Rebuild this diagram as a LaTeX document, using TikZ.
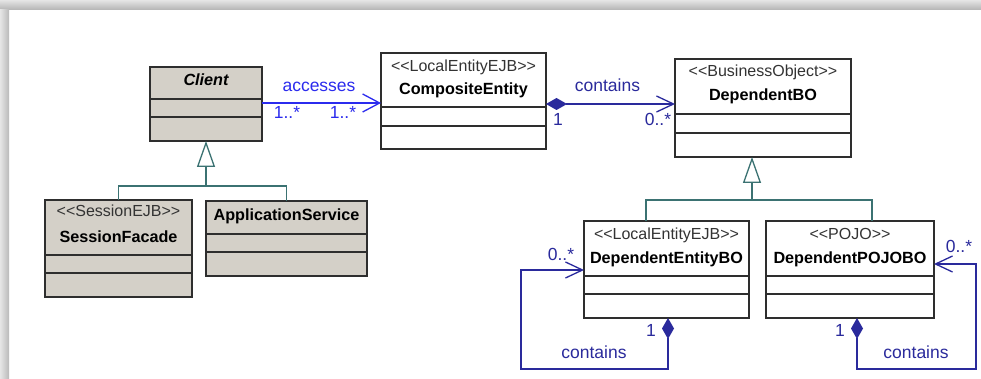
\documentclass[tikz,border=0pt]{standalone}
\usepackage{fontspec}
\newfontfamily\umlfont{Liberation Sans}
\usetikzlibrary{arrows.meta,calc}

\definecolor{boxfill}{HTML}{D4D0C8}
\definecolor{boxline}{HTML}{2E2E2E}
\definecolor{assocblue}{HTML}{2B2BEE}
\definecolor{compblue}{HTML}{2A2A9C}
\definecolor{genteal}{HTML}{3B7272}
\definecolor{stereogray}{HTML}{333333}

% stereotype guillemets written as plain angle brackets
\newcommand\stname[1]{<\kern0pt<#1>\kern0pt>}

\tikzset{
  x=1pt, y=-1pt,
  classbox/.style={draw=boxline, line width=1.2pt, inner sep=0pt, outer sep=0pt,
                   anchor=north west, fill=white},
  grayclass/.style={classbox, fill=boxfill},
  divider/.style={draw=boxline, line width=1.2pt},
  clsname/.style={anchor=base, inner sep=0pt, font=\umlfont\fontsize{16.2}{18}\selectfont\bfseries},
  stereo/.style={anchor=base, inner sep=0pt, text=stereogray, font=\umlfont\fontsize{16}{18}\selectfont},
  assoclabel/.style={anchor=base, inner sep=0pt, font=\umlfont\fontsize{17.5}{18}\selectfont},
  assoc/.style={draw=assocblue, line width=1.3pt,
                -{Straight Barb[length=17pt,width=18pt]}},
  comp/.style={draw=compblue, line width=1.3pt,
               {Diamond[length=21pt,width=12pt,fill=compblue]}-{Straight Barb[length=17pt,width=16pt]}},
  gen/.style={draw=genteal, line width=1.3pt},
  genhead/.style={gen, -{Triangle[length=26pt,width=18pt,fill=white]}},
}

\begin{document}
\begin{tikzpicture}
\useasboundingbox (0,0) rectangle (981,379);

% panel with soft shadow along the top and left edges
\fill[white] (0,0) rectangle (981,379);
\shade[top color=gray!20, bottom color=gray!60] (0,0) rectangle (981,10);
\shade[left color=gray!20, right color=gray!55] (0,10) rectangle (9,379);

% ---------- class boxes ----------
\node[grayclass, minimum width=112pt, minimum height=74pt] (client) at (150,67) {};
\node[classbox,  minimum width=165pt, minimum height=96pt] (ce)     at (381,53) {};
\node[classbox,  minimum width=176pt, minimum height=98pt] (dbo)    at (675,59) {};
\node[grayclass, minimum width=147pt, minimum height=97pt] (sf)     at (45,200) {};
\node[grayclass, minimum width=161pt, minimum height=75pt] (as)     at (206,201) {};
\node[classbox,  minimum width=165pt, minimum height=97pt] (deb)    at (584,221) {};
\node[classbox,  minimum width=168pt, minimum height=97pt] (pojo)   at (766,221) {};

% compartment dividers
\foreach \b/\ya/\yb in {client/99/117, ce/107/126, dbo/114/133, sf/255/273,
                        as/234/252, deb/276/294, pojo/276/294}{
  \draw[divider] (\b.west |- 0,\ya) -- (\b.east |- 0,\ya);
  \draw[divider] (\b.west |- 0,\yb) -- (\b.east |- 0,\yb);
}

% ---------- class names ----------
\node[clsname, font=\umlfont\fontsize{16.2}{18}\selectfont\bfseries\itshape] (clientN) at (206,86) {Client};
\node[stereo]  (ceS)   at (463.5,72)  {\stname{LocalEntityEJB}};
\node[clsname] (ceN)   at (463.5,95)  {CompositeEntity};
\node[stereo]  (dboS)  at (763,77)    {\stname{BusinessObject}};
\node[clsname] (dboN)  at (763,101)   {DependentBO};
\node[stereo]  (sfS)   at (118.5,217) {\stname{SessionEJB}};
\node[clsname] (sfN)   at (118.5,242) {SessionFacade};
\node[clsname] (asN)   at (286.5,221) {ApplicationService};
\node[stereo]  (debS)  at (666.5,240) {\stname{LocalEntityEJB}};
\node[clsname] (debN)  at (666.5,263) {DependentEntityBO};
\node[stereo]  (pojoS) at (850,240)   {\stname{POJO}};
\node[clsname] (pojoN) at (850,263)   {DependentPOJOBO};

% ---------- generalizations ----------
\coordinate (genL) at (206,186);
\draw[gen] (sf.north) |- (genL) -| (as.north);
\draw[genhead] (genL) -- (client.south);

\coordinate (genR)  at (752,200);
\coordinate (genRa) at (646,200);
\coordinate (genRb) at (872,200);
\draw[gen] (genRa |- deb.north) -- (genRa) -- (genRb) -- (genRb |- pojo.north);
\draw[genhead] (genR) -- (genR |- dbo.south);

% ---------- associations ----------
\coordinate (acc) at (0,103);
\draw[assoc] (client.east |- acc) -- (ce.west |- acc);
\node[assoclabel, text=assocblue] (accL)  at (319,92)  {accesses};
\node[assoclabel, text=assocblue] (accM1) at (287,119) {1..*};
\node[assoclabel, text=assocblue] (accM2) at (343,119) {1..*};

\coordinate (cnt) at (0,104);
\draw[comp] (ce.east |- cnt) -- (dbo.west |- cnt);
\node[assoclabel, text=compblue] (cntL)  at (607.5,92) {contains};
\node[assoclabel, text=compblue] (cntM1) at (558,126)  {1};
\node[assoclabel, text=compblue] (cntM2) at (658,126)  {0..*};

% self compositions
\coordinate (lA) at (668,369);
\coordinate (lB) at (521,270);
\draw[comp] (lA |- deb.south) -- (lA) -| (lB) -- (lB -| deb.west);
\node[assoclabel, text=compblue] (lM0) at (561,260) {0..*};
\node[assoclabel, text=compblue] (lM1) at (651,336) {1};
\node[assoclabel, text=compblue] (lL)  at (594,358) {contains};

\coordinate (rA) at (857,369);
\coordinate (rB) at (976,264);
\draw[comp] (rA |- pojo.south) -- (rA) -| (rB) -- (rB -| pojo.east);
\node[assoclabel, text=compblue] (rM0) at (959,252) {0..*};
\node[assoclabel, text=compblue] (rM1) at (840,336) {1};
\node[assoclabel, text=compblue] (rL)  at (916,358) {contains};
\end{tikzpicture}
\end{document}
